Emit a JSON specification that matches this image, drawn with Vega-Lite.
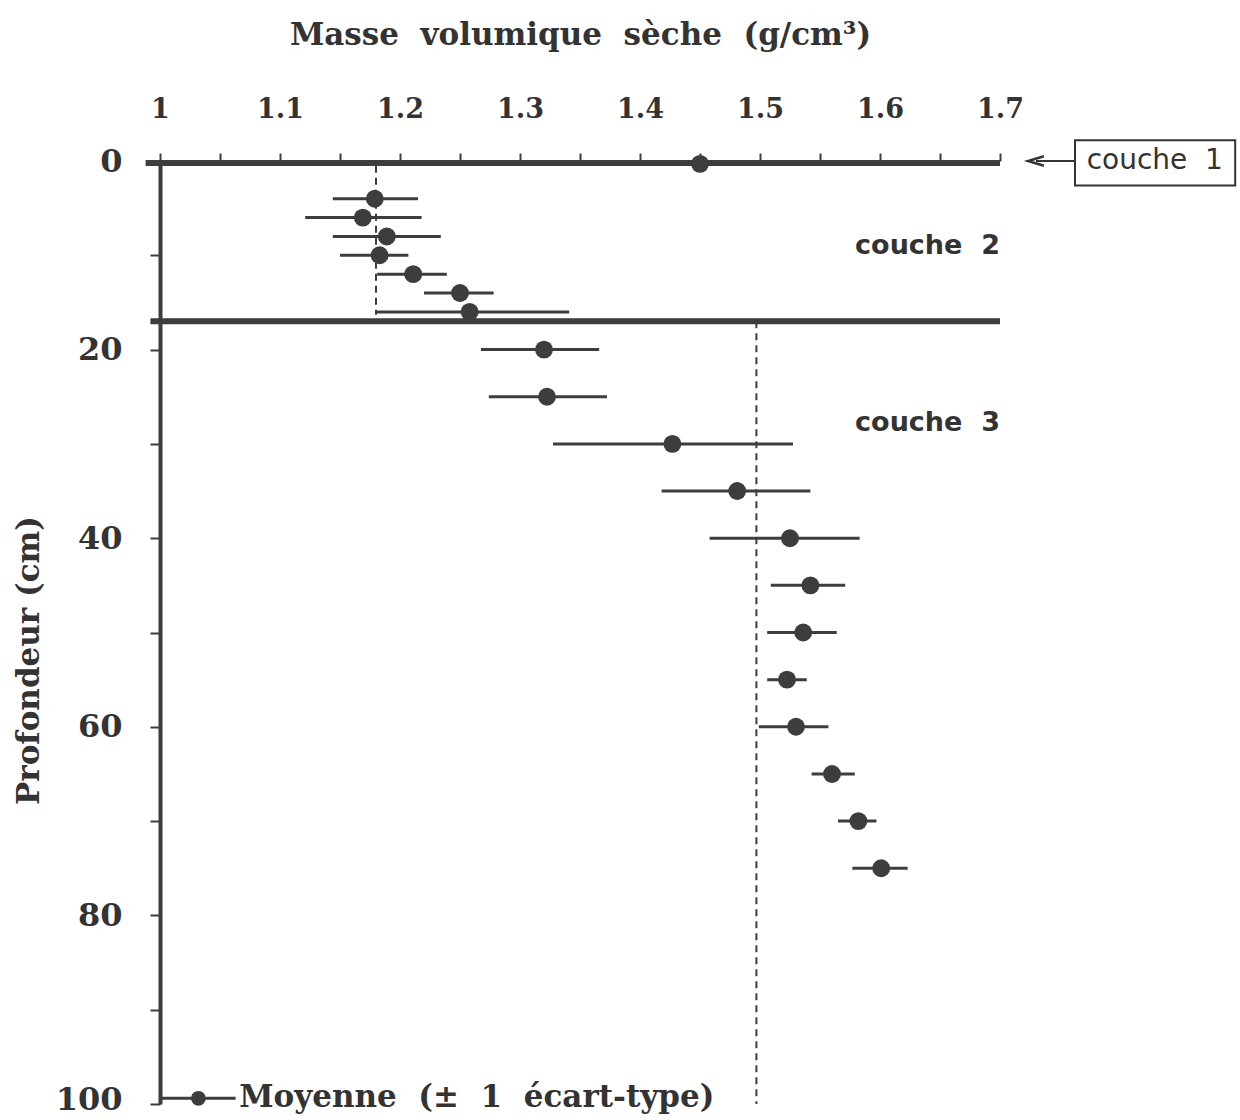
{
  "$schema": "https://vega.github.io/schema/vega-lite/v6.json",
  "width": 840,
  "height": 943,
  "autosize": "none",
  "padding": {"left": 160, "top": 161, "right": 240, "bottom": 16},
  "background": "white",
  "config": {
    "view": {"stroke": null},
    "font": "DejaVu Serif"
  },
  "datasets": {
    "pts": [
      {"d": 0.3, "m": 1.45, "lo": 1.45, "hi": 1.45},
      {"d": 4, "m": 1.179, "lo": 1.144, "hi": 1.215},
      {"d": 6, "m": 1.169, "lo": 1.121, "hi": 1.218},
      {"d": 8, "m": 1.189, "lo": 1.144, "hi": 1.234},
      {"d": 10, "m": 1.183, "lo": 1.15, "hi": 1.207},
      {"d": 12, "m": 1.211, "lo": 1.181, "hi": 1.239},
      {"d": 14, "m": 1.25, "lo": 1.22, "hi": 1.278},
      {"d": 16, "m": 1.258, "lo": 1.18, "hi": 1.341},
      {"d": 20, "m": 1.32, "lo": 1.2675, "hi": 1.366},
      {"d": 25, "m": 1.3225, "lo": 1.274, "hi": 1.3725},
      {"d": 30, "m": 1.427, "lo": 1.3275, "hi": 1.5275},
      {"d": 35, "m": 1.481, "lo": 1.418, "hi": 1.542},
      {"d": 40, "m": 1.525, "lo": 1.458, "hi": 1.583},
      {"d": 45, "m": 1.542, "lo": 1.509, "hi": 1.571},
      {"d": 50, "m": 1.536, "lo": 1.506, "hi": 1.564},
      {"d": 55, "m": 1.5225, "lo": 1.506, "hi": 1.539},
      {"d": 60, "m": 1.53, "lo": 1.499, "hi": 1.557},
      {"d": 65, "m": 1.56, "lo": 1.543, "hi": 1.579},
      {"d": 70, "m": 1.582, "lo": 1.565, "hi": 1.597},
      {"d": 75, "m": 1.601, "lo": 1.577, "hi": 1.623}
    ],
    "layers": [
      {"d": 0.2, "x1": 0.988, "x2": 1.7},
      {"d": 17, "x1": 0.992, "x2": 1.7}
    ],
    "dashes": [
      {"x": 1.18, "d1": 0.5, "d2": 16.3},
      {"x": 1.497, "d1": 17, "d2": 100}
    ],
    "labels": [
      {"x": 1.7, "d": 9.0, "t": "couche\u00a0\u00a02"},
      {"x": 1.7, "d": 27.8, "t": "couche\u00a0\u00a03"}
    ],
    "box": [
      {"x1": 1.7625, "x2": 1.896, "d1": -2.2, "d2": 2.6, "xt": 1.829, "t": "couche\u00a0\u00a01"}
    ],
    "arrow": [
      {"x1": 1.73, "x2": 1.7625, "d": 0}
    ],
    "legend": [
      {"x1": 1.0, "x2": 1.063, "xp": 1.032, "xt": 1.066, "d": 99.4, "t": "Moyenne\u00a0\u00a0(±\u00a0\u00a01\u00a0\u00a0écart-type)"}
    ]
  },
  "layer": [
    {
      "data": {"name": "pts"},
      "mark": {"type": "rule", "stroke": "#3d3d3d", "strokeWidth": 3},
      "encoding": {
        "x": {
          "field": "lo", "type": "quantitative",
          "scale": {"domain": [1, 1.7], "nice": false, "zero": false},
          "axis": {
            "orient": "top",
            "title": "Masse\u00a0\u00a0volumique\u00a0\u00a0sèche\u00a0\u00a0(g/cm³)",
            "values": [1, 1.05, 1.1, 1.15, 1.2, 1.25, 1.3, 1.35, 1.4, 1.45, 1.5, 1.55, 1.6, 1.65, 1.7],
            "format": ".2~f",
            "labelExpr": "round(datum.value*100) % 10 == 0 ? datum.label : ''",
            "domain": false,
            "grid": false,
            "tickSize": 8,
            "tickWidth": 2,
            "tickColor": "#3d3d3d",
            "labelFont": "DejaVu Serif",
            "labelFontWeight": "bold",
            "labelFontSize": 27,
            "labelColor": "#333",
            "labelPadding": 30,
            "labelFlush": false,
            "titleFont": "DejaVu Serif",
            "titleFontWeight": "bold",
            "titleFontSize": 31,
            "titleColor": "#333",
            "titlePadding": 44
          }
        },
        "x2": {"field": "hi"},
        "y": {
          "field": "d", "type": "quantitative",
          "scale": {"domain": [0, 100], "reverse": true, "nice": false, "zero": false},
          "axis": {
            "title": "Profondeur (cm)",
            "values": [0, 10, 20, 30, 40, 50, 60, 70, 80, 90, 100],
            "labelExpr": "datum.value % 20 == 0 ? datum.label : ''",
            "grid": false,
            "domainWidth": 4,
            "domainColor": "#3d3d3d",
            "tickSize": 10,
            "tickWidth": 2,
            "tickColor": "#3d3d3d",
            "labelFont": "DejaVu Serif",
            "labelFontWeight": "bold",
            "labelFontSize": 32,
            "labelColor": "#333",
            "labelPadding": 28,
            "labelOffset": {"expr": "datum.value == 100 ? -5 : 0"},
            "labelFlush": false,
            "titleFont": "DejaVu Serif",
            "titleFontWeight": "bold",
            "titleFontSize": 31,
            "titleColor": "#333",
            "titlePadding": 10,
            "titleY": 499
          }
        }
      }
    },
    {
      "data": {"name": "layers"},
      "mark": {"type": "rule", "stroke": "#3d3d3d", "strokeWidth": 6},
      "encoding": {
        "x": {"field": "x1", "type": "quantitative"},
        "x2": {"field": "x2"},
        "y": {"field": "d", "type": "quantitative"}
      }
    },
    {
      "data": {"name": "dashes"},
      "mark": {"type": "rule", "stroke": "#3d3d3d", "strokeWidth": 2, "strokeDash": [7, 5]},
      "encoding": {
        "x": {"field": "x", "type": "quantitative"},
        "y": {"field": "d1", "type": "quantitative"},
        "y2": {"field": "d2"}
      }
    },
    {
      "data": {"name": "pts"},
      "mark": {"type": "point", "filled": true, "size": 320, "color": "#3d3d3d", "opacity": 1},
      "encoding": {
        "x": {"field": "m", "type": "quantitative"},
        "y": {"field": "d", "type": "quantitative"}
      }
    },
    {
      "data": {"name": "labels"},
      "mark": {"type": "text", "align": "right", "baseline": "middle", "font": "DejaVu Sans", "fontWeight": "bold", "fontSize": 27, "color": "#333"},
      "encoding": {
        "x": {"field": "x", "type": "quantitative"},
        "y": {"field": "d", "type": "quantitative"},
        "text": {"field": "t"}
      }
    },
    {
      "data": {"name": "box"},
      "mark": {"type": "rect", "fill": "white", "stroke": "#333", "strokeWidth": 2, "clip": false},
      "encoding": {
        "x": {"field": "x1", "type": "quantitative"},
        "x2": {"field": "x2"},
        "y": {"field": "d1", "type": "quantitative"},
        "y2": {"field": "d2"}
      }
    },
    {
      "data": {"name": "box"},
      "mark": {"type": "text", "align": "center", "baseline": "middle", "font": "DejaVu Sans", "fontSize": 28, "color": "#333"},
      "encoding": {
        "x": {"field": "xt", "type": "quantitative"},
        "y": {"datum": 0, "type": "quantitative"},
        "text": {"field": "t"}
      }
    },
    {
      "data": {"name": "arrow"},
      "mark": {"type": "rule", "stroke": "#333", "strokeWidth": 2},
      "encoding": {
        "x": {"field": "x1", "type": "quantitative"},
        "x2": {"field": "x2"},
        "y": {"field": "d", "type": "quantitative"}
      }
    },
    {
      "data": {"name": "arrow"},
      "mark": {"type": "point", "shape": "M1,-0.6L-1,0L1,0.6", "filled": false, "stroke": "#333", "strokeWidth": 2.5, "size": 250, "opacity": 1},
      "encoding": {
        "x": {"field": "x1", "type": "quantitative"},
        "y": {"field": "d", "type": "quantitative"}
      }
    },
    {
      "data": {"name": "legend"},
      "mark": {"type": "rule", "stroke": "#3d3d3d", "strokeWidth": 3},
      "encoding": {
        "x": {"field": "x1", "type": "quantitative"},
        "x2": {"field": "x2"},
        "y": {"field": "d", "type": "quantitative"}
      }
    },
    {
      "data": {"name": "legend"},
      "mark": {"type": "point", "filled": true, "size": 220, "color": "#3d3d3d", "opacity": 1},
      "encoding": {
        "x": {"field": "xp", "type": "quantitative"},
        "y": {"field": "d", "type": "quantitative"}
      }
    },
    {
      "data": {"name": "legend"},
      "mark": {"type": "text", "align": "left", "baseline": "middle", "font": "DejaVu Serif", "fontWeight": "bold", "fontSize": 31, "color": "#333"},
      "encoding": {
        "x": {"field": "xt", "type": "quantitative"},
        "y": {"field": "d", "type": "quantitative"},
        "text": {"field": "t"}
      }
    }
  ]
}
